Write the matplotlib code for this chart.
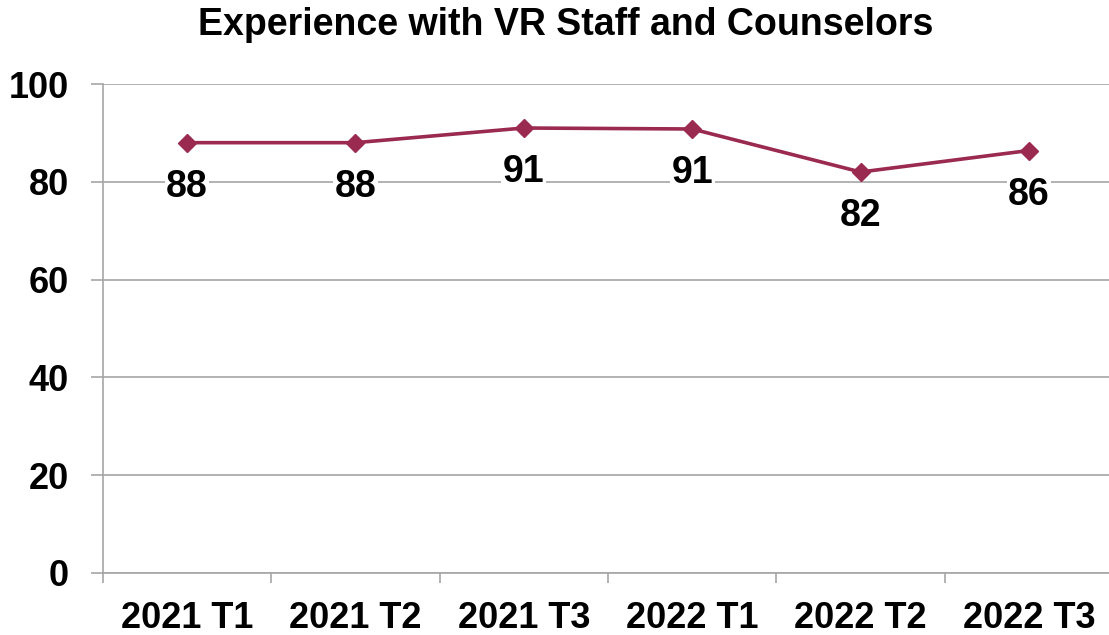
import matplotlib.pyplot as plt

# Survey trimester results
periods = ["2021 T1", "2021 T2", "2021 T3", "2022 T1", "2022 T2", "2022 T3"]
scores = [88.0, 88.0, 91.0, 90.8, 82.0, 86.4]
score_labels = ["88", "88", "91", "91", "82", "86"]

LINE_COLOR = "#9B2A50"
GRID_COLOR = "#A6A6A6"

plt.rcParams["font.family"] = ["Liberation Sans", "DejaVu Sans"]

fig = plt.figure(figsize=(11.09, 6.35), dpi=100)
ax = fig.add_axes([102.8 / 1109, 62 / 635, 1010.4 / 1109, 489 / 635])

x = list(range(len(periods)))
ax.plot(x, scores, "-", color=LINE_COLOR, linewidth=2.6,
        marker="D", markersize=9.5, zorder=3)

for xi, yi, lab in zip(x, scores, score_labels):
    ax.annotate(lab, (xi, yi), xytext=(0, -44), textcoords="offset pixels",
                ha="center", va="center", fontsize=27, fontweight="bold",
                bbox=dict(facecolor="white", edgecolor="none", pad=1),
                zorder=4)

ax.set_xlim(-0.5, len(periods) - 0.5)
ax.set_ylim(0, 100)
ax.set_yticks(range(0, 101, 20))
ax.set_xticks(x)
ax.set_xticklabels(periods)
ax.set_xticks([i - 0.5 for i in range(len(periods) + 1)], minor=True)

ax.grid(axis="y", color=GRID_COLOR, linewidth=1.2, zorder=0)
ax.set_axisbelow(True)

for side in ["top", "right"]:
    ax.spines[side].set_visible(False)
for side in ["left", "bottom"]:
    ax.spines[side].set_color(GRID_COLOR)
    ax.spines[side].set_linewidth(1.2)

ax.tick_params(axis="y", length=8.6, width=1.2, color=GRID_COLOR, pad=16,
               labelsize=26)
ax.tick_params(axis="x", which="major", length=0, pad=20, labelsize=26)
ax.tick_params(axis="x", which="minor", length=7, width=1.2, color=GRID_COLOR)
for lbl in ax.get_xticklabels() + ax.get_yticklabels():
    lbl.set_fontweight("bold")

fig.text(566 / 1109, 1 - 25 / 635, "Experience with VR Staff and Counselors",
         ha="center", va="center", fontsize=27, fontweight="bold")

fig.savefig("out.png", dpi=100)
